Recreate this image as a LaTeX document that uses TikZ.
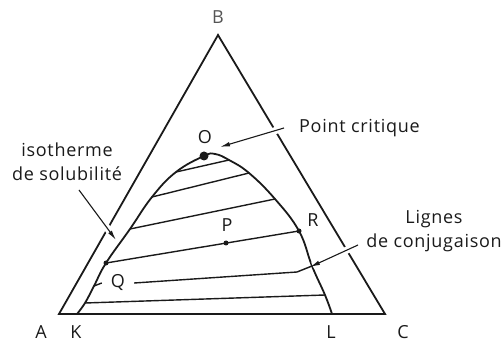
\documentclass[tikz,border=0pt]{standalone}
\usepackage{fontspec}
\setmainfont{Open Sans}[LetterSpace=4]
\usetikzlibrary{arrows.meta}
\definecolor{InkDark}{HTML}{1A1A1A}
\definecolor{InkSoft}{HTML}{555555}

\begin{document}
\begin{tikzpicture}[
  x=1pt, y=-1pt,
  line/.style={draw=InkDark, line width=1.8pt, line join=miter},
  tie/.style={draw=InkDark, line width=1.4pt},
  lbl/.style={text=InkDark, font=\fontsize{18}{24}\selectfont, inner sep=0pt},
  dot/.style={circle, fill=InkDark, inner sep=0pt, minimum size=#1},
  arrow/.style={-{Latex[length=10pt, width=4.5pt]}, draw=InkDark, line width=1.1pt,
    preaction={draw=white, -, line width=7pt, shorten >=#1}},
  arrow/.default=2pt
]
  \useasboundingbox (0,0) rectangle (504,342);

  \coordinate (A) at (59,314);
  \coordinate (B) at (218,35);
  \coordinate (C) at (385,314);
  \coordinate (K) at (77,314);
  \coordinate (L) at (332,314);
  \coordinate (O) at (204,156);
  \coordinate (top) at (215,154);

  \coordinate (a1) at (176,172);
  \coordinate (a2) at (152,197);
  \coordinate (a3) at (130,229);
  \coordinate (Q) at (106,263);
  \coordinate (a5) at (94,286);
  \coordinate (a6) at (85,303);
  \coordinate (b1) at (229,160);
  \coordinate (b2) at (249,173);
  \coordinate (b3) at (275,199);
  \coordinate (R) at (299,231);
  \coordinate (b5) at (312,266);
  \coordinate (b6) at (325,295);
  \coordinate (P) at (226,243);
  \coordinate (kink) at (297,272);

  \draw[line] (A) -- (B) -- (C) -- cycle;

  \draw[line] plot[smooth, tension=0.7] coordinates {(K) (a6) (a5) (Q) (a3) (a2) (a1) (O) (top) (b1) (b2) (b3) (R) (b5) (b6) (L)};

  \node[lbl, fill=white, inner xsep=9pt, inner ysep=3pt] (labQ) at (118,283) {Q};

  \draw[tie] (a1) -- (b1);
  \draw[tie] (a2) -- (b2);
  \draw[tie] (a3) -- (b3);
  \draw[tie] (Q) -- (R);
  \draw[tie] (a5) -- (labQ.west);
  \draw[tie] (labQ.east) -- (kink) -- (b5);
  \draw[tie] (a6) -- (b6);

  \node[dot=9pt] (dotO) at (O) {};
  \node[dot=5pt] (dotQ) at (Q) {};
  \node[dot=5pt] (dotP) at (P) {};
  \node[dot=5pt] (dotR) at (R) {};

  \coordinate (critTail) at (284,128);
  \coordinate (critTip) at (220,147);
  \coordinate (isoTail) at (79,190);
  \coordinate (isoTip) at (116,240);
  \coordinate (conjTail) at (358,245);
  \coordinate (conjTip) at (310,267);

  \draw[arrow] (critTail) -- (critTip);
  \draw[arrow=9pt] (isoTail) -- (isoTip);
  \draw[arrow=3pt] (conjTail) -- (conjTip);

  \node[lbl, text=InkSoft] (labB) at (218,17) {B};
  \node[lbl] (labA) at (41,332) {A};
  \node[lbl] (labK) at (76,332) {K};
  \node[lbl] (labL) at (331,332) {L};
  \node[lbl] (labC) at (403,332) {C};
  \node[lbl] (labO) at (205,137) {O};
  \node[lbl] (labP) at (227,225) {P};
  \node[lbl] (labR) at (313,220) {R};

  \node[lbl, anchor=west] (crit) at (299,128) {Point critique};
  \node[lbl, align=center] (iso) at (67,162) {isotherme\\de solubilité};
  \node[lbl, align=center] (conj) at (434,231) {Lignes\\de conjugaison};
\end{tikzpicture}
\end{document}
